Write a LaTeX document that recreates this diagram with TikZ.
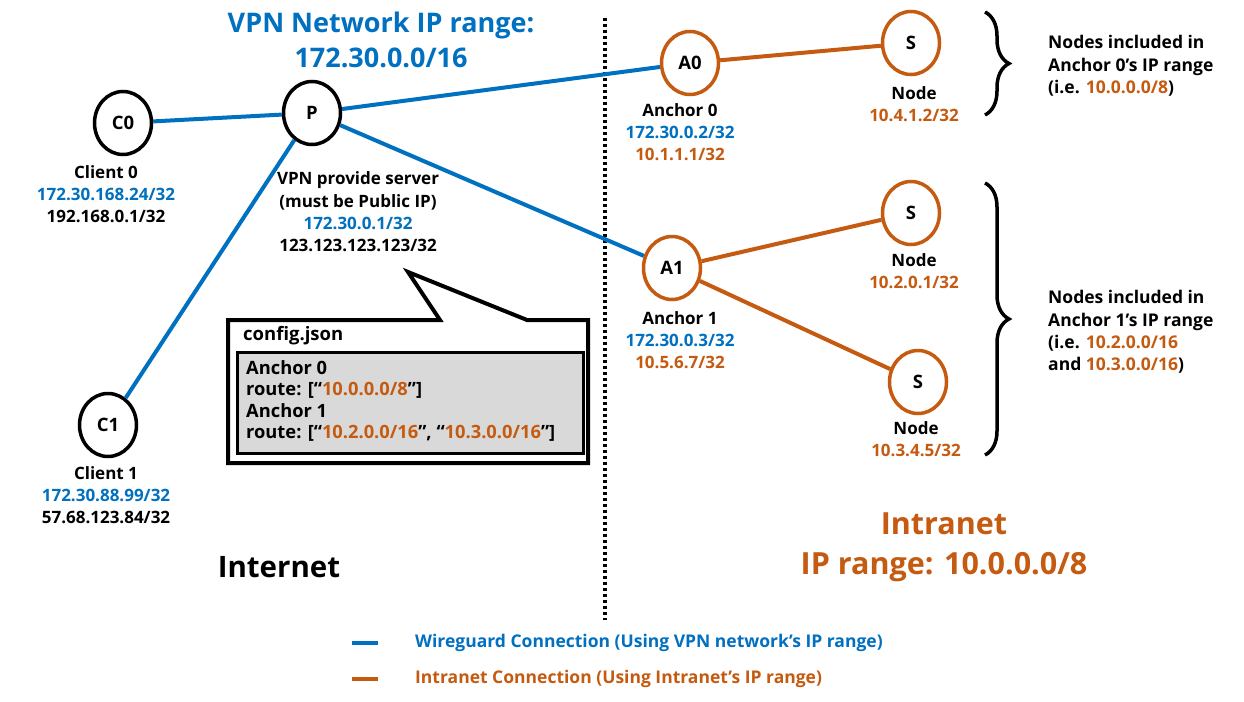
\documentclass[tikz,border=0pt]{standalone}
\usepackage{fontspec}
\setmainfont{Open Sans}
\usetikzlibrary{shapes.geometric,decorations.pathreplacing}
\definecolor{vblue}{HTML}{0070C0}
\definecolor{vorange}{HTML}{C55A11}
\definecolor{cfggrey}{HTML}{D9D9D9}
\begin{document}
\begin{tikzpicture}[x=1pt,y=-1pt,
  hostnode/.style={draw=black,ellipse,line width=3.5pt,minimum width=57pt,minimum height=63pt,inner sep=0pt,font=\fontsize{18.5}{18}\selectfont\bfseries},
  anchornode/.style={hostnode,draw=vorange},
  lbl/.style={inner sep=0pt,align=center,font=\fontsize{17}{22.3}\selectfont\bfseries},
  lbll/.style={inner sep=0pt,align=left,anchor=west,font=\fontsize{17.5}{22.3}\selectfont\bfseries},
  big/.style={inner sep=0pt,align=center,font=\fontsize{29.5}{40}\selectfont\bfseries},
  wg/.style={draw=vblue,line width=4pt},
  intra/.style={draw=vorange,line width=4pt},
  bracestyle/.style={draw=black,line width=3.5pt,decorate,decoration={brace,amplitude=24pt}}
]
\useasboundingbox[fill=white] (0,0) rectangle (1244,701);

% title
\node[big,text=vblue,font=\fontsize{27}{35}\selectfont\bfseries] (title) at (381,40) {VPN Network IP range:\\172.30.0.0/16};

% separator
\coordinate (septop) at (605,18);
\coordinate (sepbot) at (605,620);
\draw[line width=3.5pt,dash pattern=on 3pt off 3pt] (septop) -- (sepbot);

% nodes
\node[hostnode] (c0) at (123,123) {C0};
\node[hostnode] (p) at (312,113) {P};
\node[hostnode] (c1) at (108,425) {C1};
\node[anchornode] (a0) at (690,63) {A0};
\node[anchornode] (a1) at (672,268) {A1};
\node[anchornode] (s0) at (911,43) {S};
\node[anchornode] (s1) at (911,213) {S};
\node[anchornode] (s2) at (918,382) {S};

% connections
\draw[wg] (c0) -- (p);
\draw[wg] (c1) -- (p);
\draw[wg] (p) -- (a0);
\draw[wg] (p) -- (a1);
\draw[intra] (a0) -- (s0);
\draw[intra] (a1) -- (s1);
\draw[intra] (a1) -- (s2);

% labels
\node[lbl] (c0l) at (106,194) {Client 0\\\textcolor{vblue}{172.30.168.24/32}\\192.168.0.1/32};
\node[lbl] (pl) at (358,212) {VPN provide server\\(must be Public IP)\\\textcolor{vblue}{172.30.0.1/32}\\123.123.123.123/32};
\node[lbl] (c1l) at (106,495) {Client 1\\\textcolor{vblue}{172.30.88.99/32}\\57.68.123.84/32};
\node[lbl] (a0l) at (680,132) {Anchor 0\\\textcolor{vblue}{172.30.0.2/32}\\\textcolor{vorange}{10.1.1.1/32}};
\node[lbl] (a1l) at (680,340) {Anchor 1\\\textcolor{vblue}{172.30.0.3/32}\\\textcolor{vorange}{10.5.6.7/32}};
\node[lbl] (s0l) at (914,104) {Node\\\textcolor{vorange}{10.4.1.2/32}};
\node[lbl] (s1l) at (914,271) {Node\\\textcolor{vorange}{10.2.0.1/32}};
\node[lbl] (s2l) at (916,439) {Node\\\textcolor{vorange}{10.3.4.5/32}};

% braces
\coordinate (b0t) at (985,12);
\coordinate (b0b) at (985,115);
\coordinate (b1t) at (985,183);
\coordinate (b1b) at (985,455);
\draw[bracestyle] (b0t) -- (b0b);
\draw[bracestyle] (b1t) -- (b1b);
\node[lbll] (r0) at (1048,66) {Nodes included in\\Anchor 0’s IP range\\(i.e. \textcolor{vorange}{10.0.0.0/8})};
\node[lbll] (r1) at (1048,332) {Nodes included in\\Anchor 1’s IP range\\(i.e. \textcolor{vorange}{10.2.0.0/16}\\and \textcolor{vorange}{10.3.0.0/16})};

% callout
\draw[line width=4pt,fill=white,line join=miter] (228,320) -- (440,320) -- (408,272) -- (527,320) -- (588,320) -- (588,463) -- (228,463) -- cycle;
\node[lbll,font=\fontsize{18.5}{22}\selectfont\bfseries] (cfg) at (243,336) {config.json};
\node[draw=black,line width=2.5pt,fill=cfggrey,minimum width=346pt,minimum height=101pt,anchor=north west,inner sep=0pt] (cfgbox) at (236,351) {};
\node[lbll,font=\fontsize{18.3}{21.5}\selectfont\bfseries] (cfgtext) at (246,401) {Anchor 0\\route: [“\textcolor{vorange}{10.0.0.0/8}”]\\Anchor 1\\route: [“\textcolor{vorange}{10.2.0.0/16}”, “\textcolor{vorange}{10.3.0.0/16}”]};

% region labels
\node[big] (inet) at (279,567) {Internet};
\node[big,text=vorange,font=\fontsize{30.5}{40}\selectfont\bfseries] (intranet) at (944,547) {Intranet\\IP range: 10.0.0.0/8};

% legend
\coordinate (lg1a) at (352,643);
\coordinate (lg1b) at (378,643);
\coordinate (lg2a) at (352,679);
\coordinate (lg2b) at (378,679);
\draw[wg] (lg1a) -- (lg1b);
\draw[intra] (lg2a) -- (lg2b);
\node[lbll,text=vblue] (leg1) at (415,643) {Wireguard Connection (Using VPN network’s IP range)};
\node[lbll,text=vorange] (leg2) at (415,679) {Intranet Connection (Using Intranet’s IP range)};
\end{tikzpicture}
\end{document}
